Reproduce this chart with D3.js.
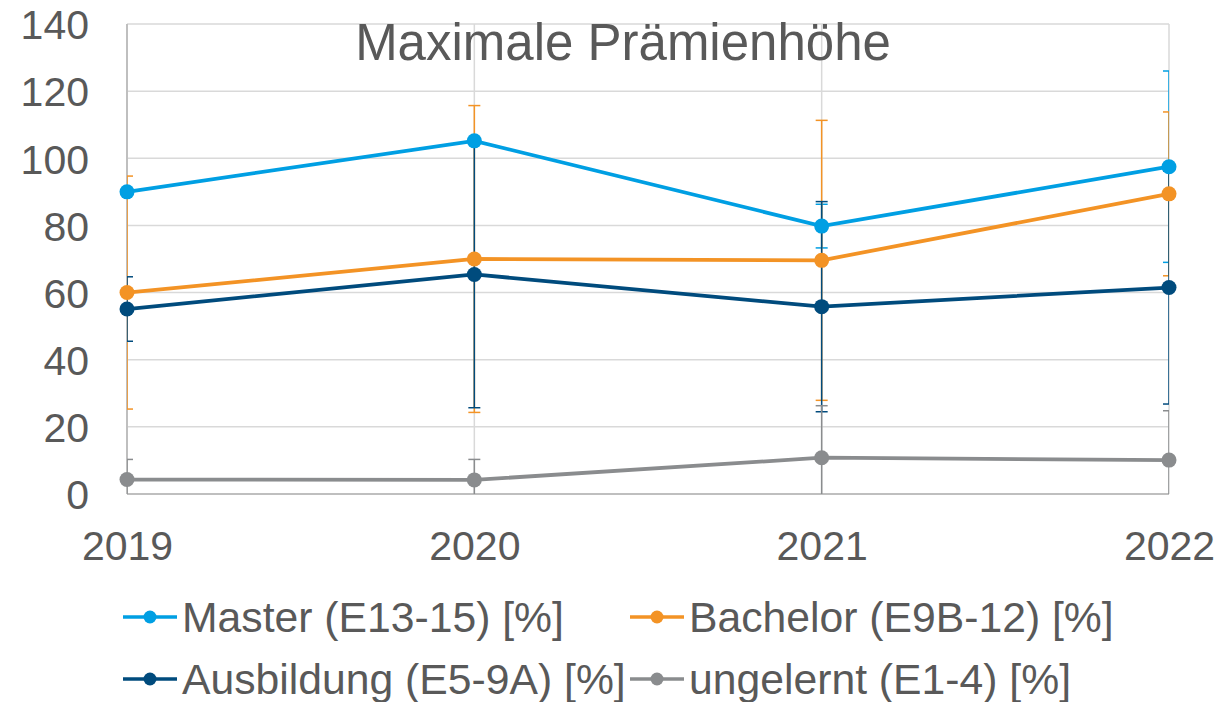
<!DOCTYPE html>
<html>
<head>
<meta charset="utf-8">
<script src="https://cdn.jsdelivr.net/npm/d3@7"></script>
<style>
  body { margin: 0; background: #fff; }
  svg text { font-family: "Liberation Sans", Arial, sans-serif; fill: #595959; }
</style>
</head>
<body>
<svg id="chart" width="1229" height="702"></svg>
<script>
// data
var years = ["2019", "2020", "2021", "2022"];
var yTicks = [0, 20, 40, 60, 80, 100, 120, 140];

var master     = [90.0, 105.2, 79.8, 97.5];
var bachelor   = [60.0, 70.0, 69.6, 89.4];
var ausbildung = [55.1, 65.4, 55.8, 61.5];
var ungelernt  = [4.3, 4.2, 10.8, 10.1];

// +/- error values
var masterErr     = [0, 0, 6.5, 28.5];
var bachelorErr   = [34.7, 45.7, 41.7, 24.4];
var ausbildungErr = [9.6, 39.7, 31.3, 34.7];
var ungelerntErr  = [6.0, 6.1, 15.5, 14.7];

var names  = ["Master (E13-15) [%]", "Bachelor (E9B-12) [%]", "Ausbildung (E5-9A) [%]", "ungelernt (E1-4) [%]"];
var colors = ["#009FE3", "#F39325", "#004B7D", "#8A8C8E"];

var series = [
  {name: names[0], values: master, err: masterErr, color: colors[0]},
  {name: names[1], values: bachelor, err: bachelorErr, color: colors[1]},
  {name: names[2], values: ausbildung, err: ausbildungErr, color: colors[2]},
  {name: names[3], values: ungelernt, err: ungelerntErr, color: colors[3]}
];

var plotLeft = 127, plotRight = 1169, plotTop = 24, plotBottom = 494;

var svg = d3.select("#chart");

var x = d3.scalePoint().domain(years).range([plotLeft, plotRight]);
var y = d3.scaleLinear().domain([0, 140]).range([plotBottom, plotTop]);

// gridlines
svg.append("g").selectAll("line")
  .data(yTicks.filter(function(d) { return d > 0; }))
  .enter().append("line")
  .attr("x1", plotLeft).attr("x2", plotRight)
  .attr("y1", function(d) { return y(d); })
  .attr("y2", function(d) { return y(d); })
  .attr("stroke", "#D9D9D9").attr("stroke-width", 1.5);

svg.append("g").selectAll("line")
  .data(years.slice(1))
  .enter().append("line")
  .attr("x1", function(d) { return x(d); })
  .attr("x2", function(d) { return x(d); })
  .attr("y1", plotTop).attr("y2", plotBottom)
  .attr("stroke", "#D9D9D9").attr("stroke-width", 1.5);

// axis lines
svg.append("line").attr("x1", plotLeft).attr("x2", plotLeft).attr("y1", plotTop).attr("y2", plotBottom)
  .attr("stroke", "#BFBFBF").attr("stroke-width", 2);
svg.append("line").attr("x1", plotLeft).attr("x2", plotRight).attr("y1", plotBottom).attr("y2", plotBottom)
  .attr("stroke", "#BFBFBF").attr("stroke-width", 2);

// y axis labels
var yAxis = svg.append("g")
  .attr("transform", "translate(" + (plotLeft - 38) + ",0)")
  .call(d3.axisLeft(y).tickValues(yTicks).tickSize(0).tickPadding(0));
yAxis.select(".domain").remove();
yAxis.selectAll("text").style("font-size", "41px").attr("dy", "0.36em").style("fill", "#595959");

// x axis labels
var xAxis = svg.append("g")
  .attr("transform", "translate(0," + plotBottom + ")")
  .call(d3.axisBottom(x).tickSize(0).tickPadding(0));
xAxis.select(".domain").remove();
xAxis.selectAll("text").style("font-size", "41px").attr("y", 66).attr("dy", 0).style("fill", "#595959");

// title
svg.append("text")
  .attr("x", 623).attr("y", 60)
  .attr("text-anchor", "middle")
  .style("font-size", "51px")
  .text("Maximale Prämienhöhe");

// error bars, clipped to plot area
svg.append("clipPath").attr("id", "plotclip")
  .append("rect").attr("x", plotLeft).attr("y", plotTop)
  .attr("width", plotRight - plotLeft).attr("height", plotBottom - plotTop);

var errG = svg.append("g").attr("clip-path", "url(#plotclip)");
var capW = 6;
series.forEach(function(s) {
  years.forEach(function(yr, i) {
    var e = s.err[i];
    if (!e) return;
    var cx = x(yr), hi = y(s.values[i] + e), lo = y(s.values[i] - e);
    errG.append("line").attr("x1", cx).attr("x2", cx).attr("y1", hi).attr("y2", lo)
      .attr("stroke", s.color).attr("stroke-width", 1.5);
    [hi, lo].forEach(function(py) {
      errG.append("line").attr("x1", cx - capW).attr("x2", cx + capW).attr("y1", py).attr("y2", py)
        .attr("stroke", s.color).attr("stroke-width", 1.5);
    });
  });
});

// lines and markers
var line = d3.line()
  .x(function(d, i) { return x(years[i]); })
  .y(function(d) { return y(d); });

series.forEach(function(s) {
  svg.append("path").datum(s.values)
    .attr("d", line)
    .attr("fill", "none")
    .attr("stroke", s.color)
    .attr("stroke-width", 3.75);
  svg.append("g").selectAll("circle")
    .data(s.values)
    .enter().append("circle")
    .attr("cx", function(d, i) { return x(years[i]); })
    .attr("cy", function(d) { return y(d); })
    .attr("r", 7.5)
    .attr("fill", s.color);
});

// legend
var legX = [123, 630], legY = [617, 679];
series.forEach(function(s, i) {
  var lx = legX[i % 2], ly = legY[Math.floor(i / 2)];
  var g = svg.append("g").attr("transform", "translate(" + lx + "," + ly + ")");
  g.append("line").attr("x1", 0).attr("x2", 54).attr("y1", 0).attr("y2", 0)
    .attr("stroke", s.color).attr("stroke-width", 3.5);
  g.append("circle").attr("cx", 27).attr("cy", 0).attr("r", 6.5).attr("fill", s.color);
  g.append("text").attr("x", 59).attr("y", 15)
    .style("font-size", "42.7px")
    .text(s.name);
});
</script>
</body>
</html>
